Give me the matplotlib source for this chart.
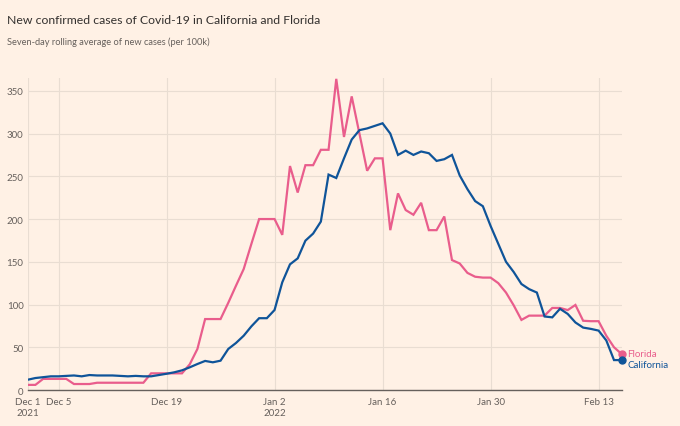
import numpy as np
import pandas as pd
import matplotlib
matplotlib.use('Agg')
import matplotlib.pyplot as plt
import matplotlib.dates as mdates

plt.rcParams['font.family'] = ['Lato', 'DejaVu Sans']

# seven-day rolling average of new cases per 100k, Dec 1 2021 - Feb 16 2022
dates = pd.date_range('2021-12-01', '2022-02-16', freq='D')

california = [12, 14, 15, 16, 16, 16.5, 17, 16, 17.5, 17,
              17, 17, 16.5, 16, 16.5, 16, 16, 17.5, 19, 20.7,
              23, 26.5, 30.4, 34, 32.4, 34.3, 48, 55, 63.5, 74.5,
              84, 84, 93.6, 126, 147, 154, 174.7, 183, 197, 252,
              248, 271, 293, 304, 306, 309, 312, 300, 275, 280,
              275, 279, 277, 268, 270, 275, 251, 235, 221, 215,
              192, 171, 150, 138, 124, 118, 114, 86, 85, 95,
              89, 79, 73, 71.5, 69.5, 58, 35, 35]

florida = [6, 6, 13, 13, 13, 13, 7, 7, 7, 8.5,
           8.5, 8.5, 8.5, 8.5, 8.5, 8.5, 19.5, 19.5, 19.5, 19.5,
           19.5, 30, 48, 83, 83, 83, 102, 122, 141.5, 171,
           200, 200, 200, 181.5, 262, 231, 263, 263, 281, 281,
           364, 296, 343.5, 300, 256.5, 271, 271, 187, 230, 210.5,
           205, 219, 187, 187, 203, 152, 148, 137, 132.5, 131.5,
           131.5, 125, 114, 99, 82, 87, 87, 87, 96, 96,
           93.5, 99.5, 81, 80.5, 80.5, 63.5, 50, 42]

tick_dates = ['2021-12-01', '2021-12-05', '2021-12-19', '2022-01-02',
              '2022-01-16', '2022-01-30', '2022-02-13']
tick_labels = ['Dec 1\n2021', 'Dec 5', 'Dec 19', 'Jan 2\n2022',
               'Jan 16', 'Jan 30', 'Feb 13']
y_ticks = [0, 50, 100, 150, 200, 250, 300, 350]

bg = '#fff1e5'
grid_col = '#e9ddd2'
text_col = '#66605c'
ca_col = '#0f5499'
fl_col = '#e95d8c'

fig = plt.figure(figsize=(6.8, 4.27), dpi=100, facecolor=bg)
ax = fig.add_axes([0.0407, 0.0843, 0.8736, 0.7307], facecolor=bg)

ax.plot(dates, florida, color=fl_col, lw=1.6, solid_joinstyle='miter', zorder=3)
ax.plot(dates, california, color=ca_col, lw=1.6, solid_joinstyle='miter', zorder=4)

# end dots and direct labels
ax.plot(dates[-1], florida[-1], 'o', color=fl_col, ms=5, zorder=5, clip_on=False)
ax.plot(dates[-1], california[-1], 'o', color=ca_col, ms=5, zorder=5, clip_on=False)
ax.annotate('Florida', (dates[-1], florida[-1]), xytext=(4, 0.5),
            textcoords='offset points', color=fl_col, fontsize=7, va='center')
ax.annotate('California', (dates[-1], california[-1]), xytext=(4, -3),
            textcoords='offset points', color=ca_col, fontsize=7, va='center')

ax.set_xlim(dates[0], dates[-1])
ax.set_ylim(0, 365)

ax.set_xticks([mdates.date2num(pd.Timestamp(d)) for d in tick_dates])
ax.set_xticklabels(tick_labels)
ax.set_yticks(y_ticks)
ax.set_yticklabels([str(v) for v in y_ticks])

ax.tick_params(axis='both', length=0, labelsize=7, labelcolor=text_col)
ax.tick_params(axis='x', pad=5)
ax.tick_params(axis='y', pad=3)
for lbl in ax.get_xticklabels():
    lbl.set_horizontalalignment('center')
    lbl.set_linespacing(1.25)

ax.grid(True, color=grid_col, lw=0.8, zorder=0)
for s in ['top', 'right', 'left']:
    ax.spines[s].set_visible(False)
ax.spines['bottom'].set_color('#66605c')
ax.spines['bottom'].set_linewidth(1.0)
ax.spines['bottom'].set_zorder(6)

fig.text(0.0103, 1 - 20 / 427, 'New confirmed cases of Covid-19 in California and Florida',
         fontsize=8.8, color='#33302e', va='center', ha='left')
fig.text(0.0103, 1 - 42 / 427, 'Seven-day rolling average of new cases (per 100k)',
         fontsize=6.7, color=text_col, va='center', ha='left')

fig.savefig('out.png', dpi=100, facecolor=bg)
